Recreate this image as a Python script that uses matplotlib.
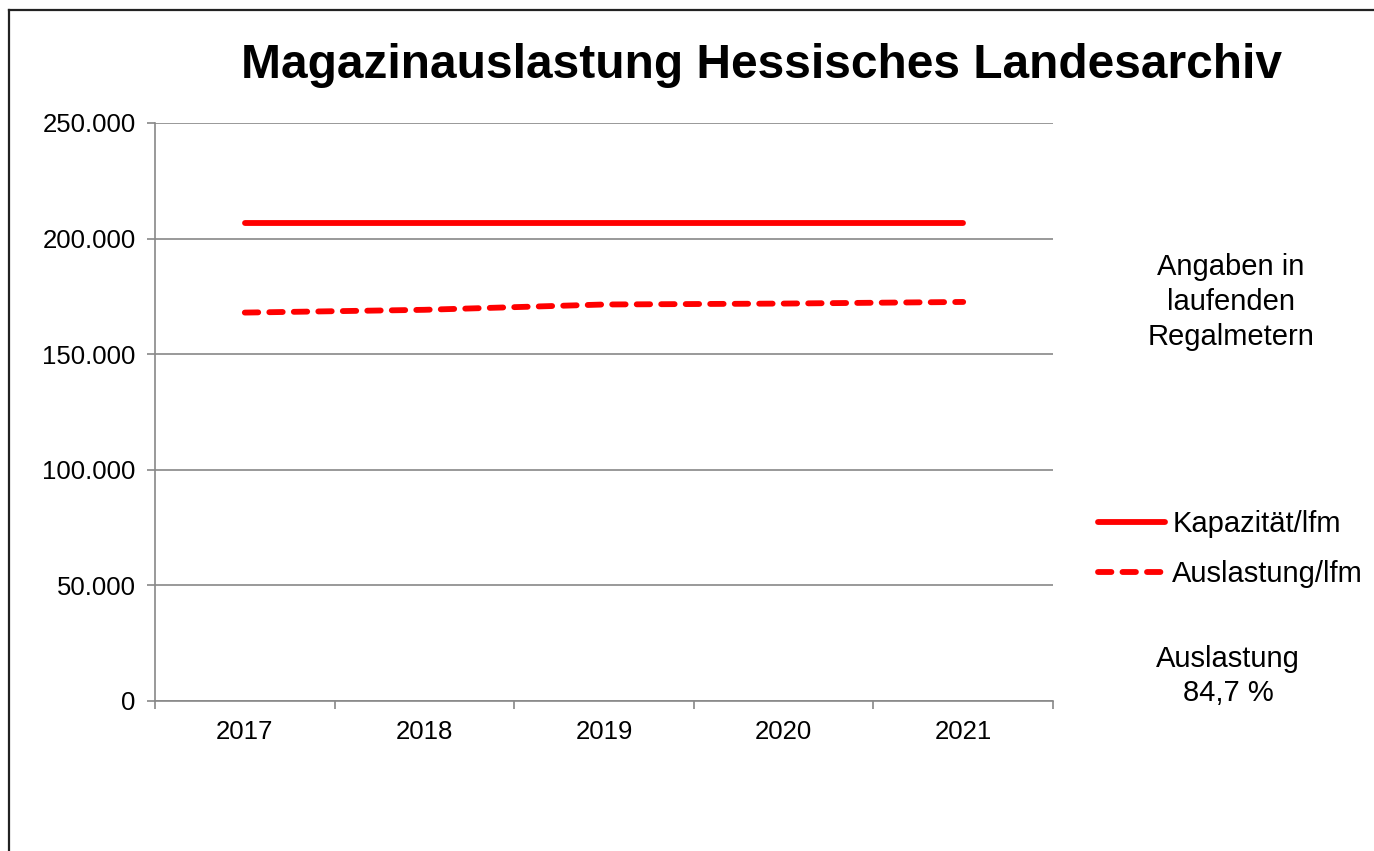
import matplotlib
matplotlib.use("Agg")
import matplotlib.pyplot as plt
from matplotlib.lines import Line2D

plt.rcParams['font.family'] = ['Liberation Sans', 'DejaVu Sans']

years = ["2017", "2018", "2019", "2020", "2021"]
kapazitaet = [206800, 206800, 206800, 206800, 206800]
auslastung = [168000, 169200, 171500, 171900, 172600]
y_ticks = [0, 50000, 100000, 150000, 200000, 250000]
y_labels = ["0", "50.000", "100.000", "150.000", "200.000", "250.000"]

fig = plt.figure(figsize=(13.74, 8.51), dpi=100)
ax = fig.add_axes([155/1374, 1 - 701/851, (1053 - 155)/1374, (701 - 123)/851])

x = list(range(len(years)))
red = "#ff0000"
lw = 4.2
dash = (2.3, 1.9)
ax.plot(x, kapazitaet, color=red, lw=lw, solid_capstyle="round", label="Kapazität/lfm")
ax.plot(x, auslastung, color=red, lw=lw, dashes=dash, dash_capstyle="round",
        label="Auslastung/lfm")

ax.set_xlim(-0.5, len(years) - 0.5)
ax.set_ylim(0, 250000)
ax.set_yticks(y_ticks)
ax.set_yticklabels(y_labels, fontsize=18.5)
ax.set_xticks(x)
ax.set_xticklabels(years, fontsize=18.5)
ax.set_xticks([i - 0.5 for i in range(len(years) + 1)], minor=True)
ax.tick_params(axis="x", which="major", length=0, pad=14)
ax.tick_params(axis="x", which="minor", length=6, color="#888888", width=1.2)
ax.tick_params(axis="y", length=6, color="#888888", width=1.2, pad=8)
ax.grid(axis="y", color="#888888", lw=1.2)
ax.set_axisbelow(True)
for s in ["top", "right"]:
    ax.spines[s].set_visible(False)
for s in ["left", "bottom"]:
    ax.spines[s].set_color("#888888")
    ax.spines[s].set_linewidth(1.2)

fig.text(761/1374, 1 - 66/851, "Magazinauslastung Hessisches Landesarchiv",
         fontsize=34.5, fontweight="bold", ha="center", va="center")

fig.text(1231/1374, 1 - 302/851, "Angaben in\nlaufenden\nRegalmetern",
         fontsize=21, ha="center", va="center", linespacing=1.32)
fig.text(1228/1374, 1 - 676/851, "Auslastung\n84,7 %",
         fontsize=21, ha="center", va="center", linespacing=1.3)

handles = [Line2D([], [], color=red, lw=lw, solid_capstyle="round"),
           Line2D([], [], color=red, lw=lw, dashes=dash, dash_capstyle="round")]
fig.legend(handles, ["Kapazität/lfm", "Auslastung/lfm"], loc="center left",
           bbox_to_anchor=(1098/1374, 1 - 549/851), fontsize=21, frameon=False,
           handlelength=2.3, handletextpad=0.25, labelspacing=0.76, borderpad=0,
           borderaxespad=0)

# chart border
fig.add_artist(Line2D([8.5/1374, 8.5/1374], [0, 1 - 9.5/851], color="#222222", lw=1.6))
fig.add_artist(Line2D([8.5/1374, 1], [1 - 9.5/851, 1 - 9.5/851], color="#222222", lw=1.6))

fig.savefig("out.png", dpi=100)
